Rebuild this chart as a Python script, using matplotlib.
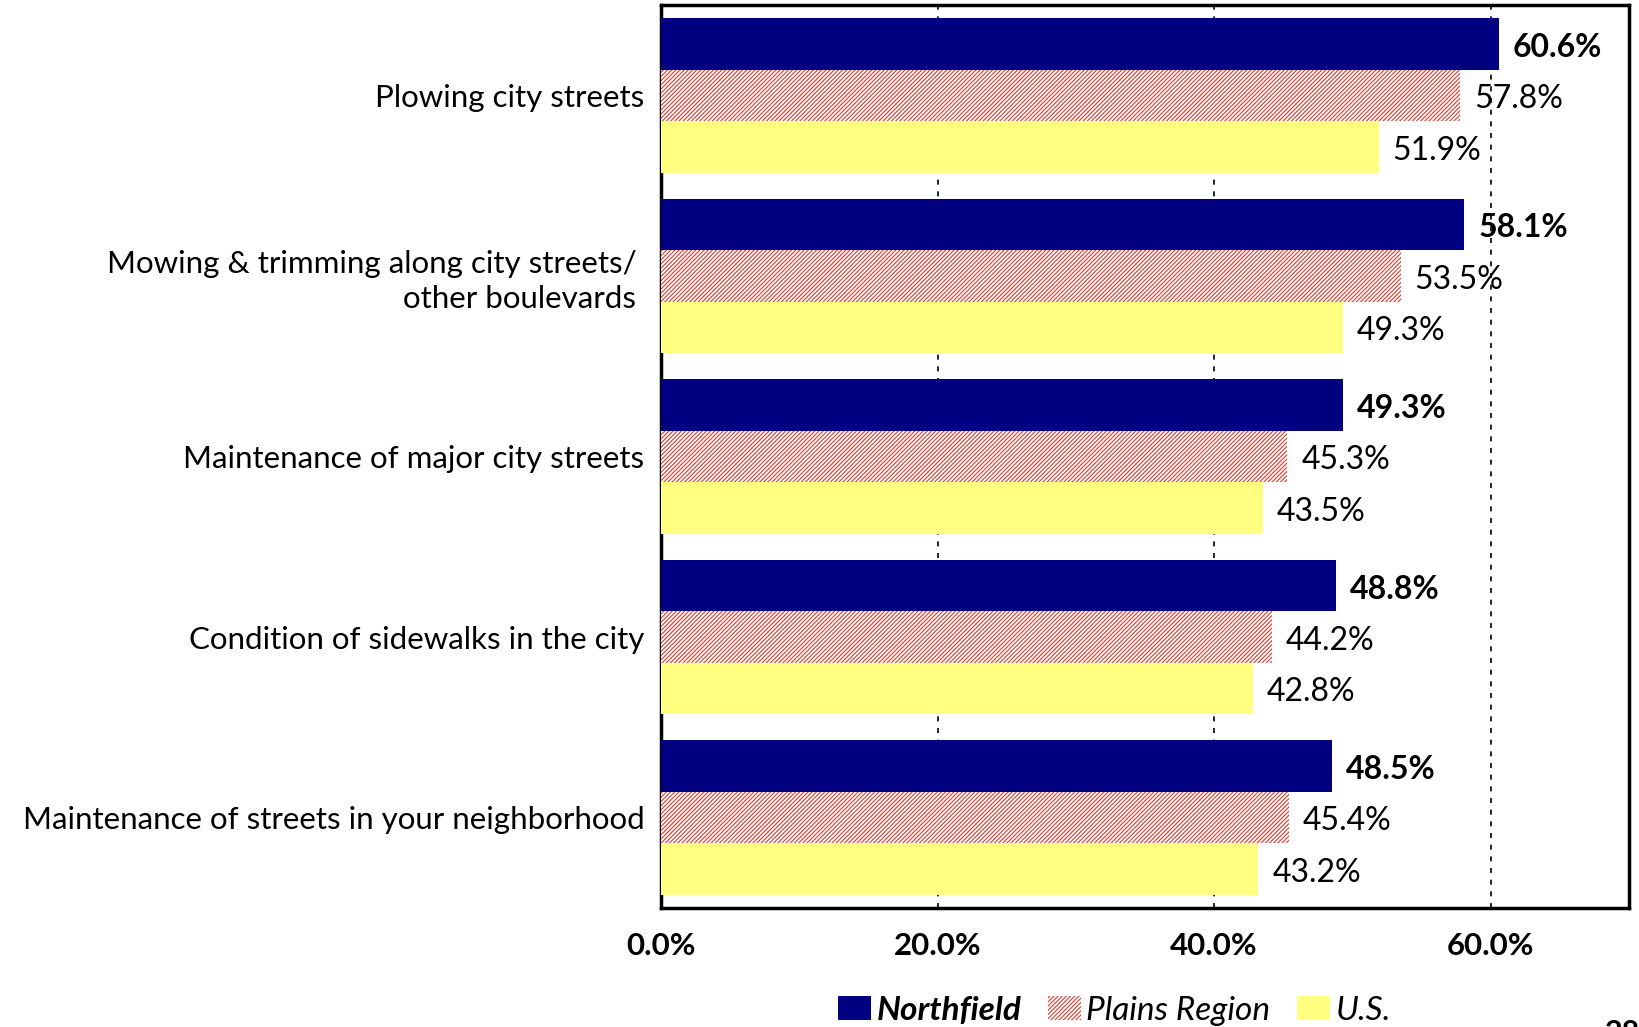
import numpy as np
import matplotlib.pyplot as plt
from matplotlib.patches import Patch

plt.rcParams['font.family'] = ['Lato', 'DejaVu Sans']
plt.rcParams['hatch.linewidth'] = 0.8

# Survey items, top to bottom
categories = [
    "Plowing city streets",
    "Mowing & trimming along city streets/ \nother boulevards ",
    "Maintenance of major city streets",
    "Condition of sidewalks in the city",
    "Maintenance of streets in your neighborhood",
]
northfield = [60.6, 58.1, 49.3, 48.8, 48.5]
plains = [57.8, 53.5, 45.3, 44.2, 45.4]
us = [51.9, 49.3, 43.5, 42.8, 43.2]
series_names = ["Northfield", "Plains Region", "U.S."]
xticks = [0, 20, 40, 60]

navy = "#000080"
hatch_red = "#DA3A2C"
yellow = "#FFFF80"
stripes = "////////"

fig = plt.figure(figsize=(16.39, 10.27), dpi=100)
ax = fig.add_axes([0.4033, 0.1159, 0.5906, 0.8792])

y = np.arange(len(categories))
h = 1 / 3.5

ax.barh(y - h, northfield, height=h, color=navy, linewidth=0, zorder=3)
ax.barh(y, plains, height=h, color="white", edgecolor=hatch_red, hatch=stripes,
        linewidth=0, zorder=3)
ax.barh(y + h, us, height=h, color=yellow, linewidth=0, zorder=3)

# value labels just past each bar end
for i in range(len(categories)):
    ax.text(northfield[i] + 1.0, y[i] - h + 0.02, f"{northfield[i]:.1f}%", va="center",
            ha="left", fontsize=23, fontweight="bold", zorder=5)
    ax.text(plains[i] + 1.0, y[i] + 0.02, f"{plains[i]:.1f}%", va="center",
            ha="left", fontsize=23, zorder=5)
    ax.text(us[i] + 1.0, y[i] + h + 0.02, f"{us[i]:.1f}%", va="center",
            ha="left", fontsize=23, zorder=5)

ax.set_xlim(0, 70)
ax.set_ylim(len(categories) - 0.5, -0.5)
ax.set_xticks(xticks)
ax.set_xticklabels([f"{t:.1f}%" for t in xticks], fontsize=22.5, fontweight="bold")
ax.set_yticks(y)
ax.set_yticklabels(categories, fontsize=22.5, linespacing=1.3)
ax.tick_params(axis="both", length=0)
ax.tick_params(axis="x", pad=17)
ax.tick_params(axis="y", pad=12)

for t in xticks[1:]:
    ax.axvline(t, color="black", linestyle=(0, (3, 4)), linewidth=1.2, zorder=1)

for sp in ax.spines.values():
    sp.set_linewidth(2.5)
    sp.set_color("black")

handles = [
    Patch(facecolor=navy, linewidth=0),
    Patch(facecolor="white", edgecolor=hatch_red, hatch=stripes, linewidth=0),
    Patch(facecolor=yellow, linewidth=0),
]
leg = fig.legend(handles, series_names, loc="center", bbox_to_anchor=(0.680, 0.016),
                 ncol=3, frameon=False, prop={"size": 24, "style": "italic"},
                 handlelength=1.0, handleheight=0.75, handletextpad=0.15,
                 columnspacing=0.8, borderpad=0.0)
leg.get_texts()[0].set_fontweight("bold")

# page number, partly past the bottom edge
fig.text(0.979, 0.008, "28", ha="left", va="top", fontsize=22, fontweight="bold")

fig.savefig("out.png", dpi=100)
